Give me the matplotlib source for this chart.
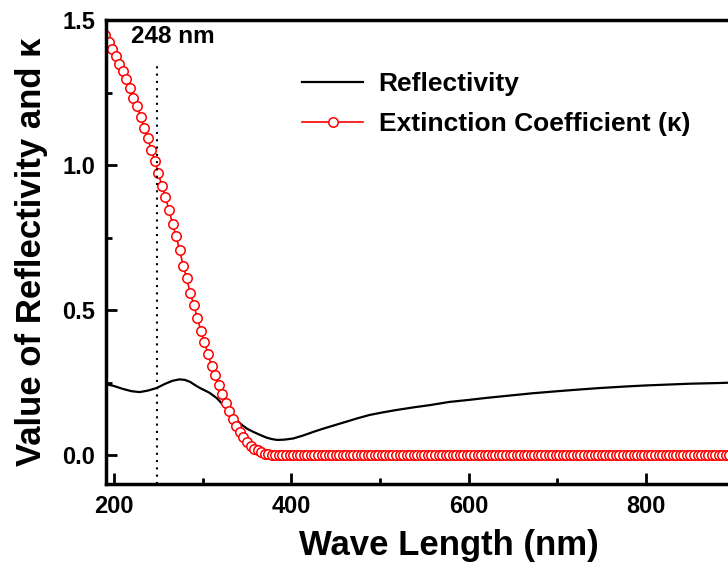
import numpy as np
import matplotlib
matplotlib.use("Agg")
import matplotlib.pyplot as plt

plt.rcParams['font.family'] = ['Liberation Sans', 'DejaVu Sans']
plt.rcParams['font.weight'] = 'bold'

# reflectivity curve
refl_wl = [190, 200, 210, 220, 229, 238, 248, 258, 266, 274, 280, 286, 292,
           297, 303, 308, 316, 324, 332, 340, 345, 350, 357, 365, 372, 378,
           384, 392, 402, 413, 425, 436, 449, 462, 475, 488, 503, 518, 537,
           556, 578, 600, 620, 646, 672, 700, 725, 748, 775, 800, 825, 850,
           879, 900]
refl_val = [0.245, 0.238, 0.228, 0.220, 0.217, 0.222, 0.231, 0.246, 0.256,
            0.261, 0.259, 0.252, 0.240, 0.231, 0.222, 0.214, 0.196, 0.170,
            0.140, 0.115, 0.102, 0.091, 0.080, 0.069, 0.060, 0.055, 0.052,
            0.053, 0.057, 0.067, 0.080, 0.091, 0.103, 0.115, 0.127, 0.138,
            0.147, 0.155, 0.164, 0.172, 0.183, 0.190, 0.197, 0.205, 0.213,
            0.220, 0.226, 0.231, 0.236, 0.240, 0.243, 0.246, 0.248, 0.250]

# extinction coefficient, one point every 4 nm
k_wl = np.arange(190, 899, 4)
k_steep = [1.450, 1.425, 1.400, 1.375, 1.350, 1.325, 1.296, 1.265, 1.232,
           1.202, 1.167, 1.128, 1.092, 1.052, 1.015, 0.972, 0.928, 0.889,
           0.846, 0.797, 0.754, 0.707, 0.653, 0.609, 0.558, 0.518, 0.472,
           0.428, 0.390, 0.348, 0.308, 0.275, 0.240, 0.209, 0.180, 0.151,
           0.125, 0.101, 0.078, 0.061, 0.046, 0.031, 0.022, 0.016, 0.010,
           0.005, 0.002, 0.000]
k_val = k_steep + [0.0] * (len(k_wl) - len(k_steep))

fig = plt.figure(figsize=(7.28, 5.72), dpi=100)
ax = fig.add_axes([0.1456, 0.1538, 0.8637, 0.8112])

ax.plot(refl_wl, refl_val, color='black', lw=1.6, label='Reflectivity')
ax.plot(k_wl, k_val, color='red', lw=1.2, marker='o', markersize=6.8,
        markerfacecolor='white', markeredgecolor='red', markeredgewidth=1.1,
        label='Extinction Coefficient (κ)')

ax.plot([248, 248], [-0.1, 1.34], color='black', lw=1.5, linestyle=(0, (1, 2.5)))
ax.text(219, 1.442, '248 nm', fontsize=17.5, fontweight='bold', ha='left', va='center')

ax.set_xlim(191, 900)
ax.set_ylim(-0.1, 1.5)
ax.set_xticks([200, 400, 600, 800])
ax.set_xticks([300, 500, 700], minor=True)
ax.set_yticks([0.0, 0.5, 1.0, 1.5])
ax.set_yticks([0.25, 0.75, 1.25], minor=True)
ax.set_yticklabels(['0.0', '0.5', '1.0', '1.5'])
ax.tick_params(which='major', direction='in', length=8, width=2, labelsize=17, pad=8)
ax.tick_params(which='minor', direction='in', length=4.5, width=2)
for lab in ax.get_xticklabels() + ax.get_yticklabels():
    lab.set_fontweight('bold')
for s in ax.spines.values():
    s.set_linewidth(2.5)

ax.set_xlabel('Wave Length (nm)', fontsize=25, fontweight='bold')
ax.xaxis.set_label_coords(0.546, -0.098)
ax.set_ylabel('Value of Reflectivity and κ', fontsize=25, fontweight='bold', labelpad=10)

ax.legend(loc='upper left', bbox_to_anchor=(0.312, 0.888), frameon=False,
          handlelength=2.3, handletextpad=0.6, labelspacing=0.62,
          borderpad=0, borderaxespad=0, prop={'weight': 'bold', 'size': 19})

fig.savefig('out.png', dpi=100)
